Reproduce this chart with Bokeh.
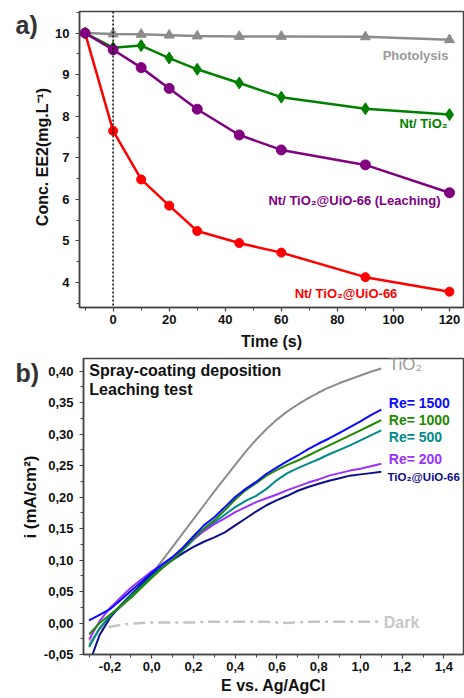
from bokeh.plotting import figure
from bokeh.layouts import column, row
from bokeh.models import Range1d, SingleIntervalTicker, Span, Label, CustomJSTickFormatter
from bokeh.embed import file_html
from bokeh.resources import INLINE

FONT = "Liberation Sans"

# ---------------- Panel a data ----------------
time_s = [-10, 0, 10, 20, 30, 45, 60, 90, 120]
photolysis = [10.0, 9.98, 9.97, 9.95, 9.93, 9.92, 9.92, 9.91, 9.84]
nt_tio2 = [10.0, 9.65, 9.70, 9.40, 9.13, 8.80, 8.46, 8.18, 8.04]
nt_tio2_uio_leach = [10.0, 9.60, 9.17, 8.67, 8.17, 7.55, 7.19, 6.83, 6.16]
nt_tio2_uio = [10.0, 7.65, 6.48, 5.85, 5.24, 4.95, 4.72, 4.13, 3.78]

# ---------------- Panel b data ----------------
potential = [-0.30, -0.25, -0.20, -0.15, -0.10, -0.05, 0.00, 0.05, 0.10, 0.15,
             0.20, 0.25, 0.30, 0.35, 0.40, 0.45, 0.50, 0.55, 0.60, 0.65,
             0.70, 0.75, 0.80, 0.85, 0.90, 0.95, 1.00, 1.05, 1.10]
i_tio2 = [-0.035, -0.010, 0.010, 0.025, 0.040, 0.058, 0.078, 0.099, 0.121, 0.143,
          0.165, 0.187, 0.209, 0.230, 0.251, 0.272, 0.291, 0.308, 0.323, 0.336,
          0.347, 0.357, 0.366, 0.374, 0.381, 0.387, 0.393, 0.399, 0.404]
i_re1500 = [0.004, 0.013, 0.022, 0.036, 0.051, 0.065, 0.080, 0.093, 0.105, 0.120,
            0.138, 0.155, 0.168, 0.184, 0.200, 0.213, 0.224, 0.237, 0.247, 0.257,
            0.266, 0.276, 0.285, 0.293, 0.302, 0.311, 0.320, 0.330, 0.339]
i_re1000 = [-0.018, 0.000, 0.013, 0.027, 0.040, 0.056, 0.072, 0.087, 0.100, 0.117,
            0.135, 0.150, 0.163, 0.179, 0.196, 0.211, 0.222, 0.234, 0.243, 0.251,
            0.258, 0.266, 0.274, 0.282, 0.290, 0.298, 0.306, 0.314, 0.322]
i_re500 = [-0.038, -0.008, 0.011, 0.027, 0.043, 0.058, 0.074, 0.088, 0.101, 0.116,
           0.132, 0.147, 0.160, 0.172, 0.184, 0.194, 0.202, 0.213, 0.227, 0.238,
           0.246, 0.253, 0.260, 0.268, 0.275, 0.282, 0.290, 0.298, 0.306]
i_re200 = [-0.026, 0.003, 0.024, 0.040, 0.056, 0.069, 0.082, 0.093, 0.104, 0.118,
           0.133, 0.146, 0.157, 0.166, 0.176, 0.184, 0.192, 0.198, 0.204, 0.211,
           0.217, 0.223, 0.228, 0.234, 0.238, 0.242, 0.245, 0.249, 0.253]
i_tio2_uio = [-0.065, -0.019, 0.008, 0.028, 0.045, 0.061, 0.077, 0.089, 0.100, 0.111,
              0.121, 0.129, 0.136, 0.144, 0.155, 0.166, 0.177, 0.187, 0.195, 0.202,
              0.210, 0.216, 0.221, 0.226, 0.230, 0.234, 0.236, 0.238, 0.240]
i_dark = [-0.030, -0.012, -0.006, -0.003, -0.001, 0.000, 0.001, 0.001, 0.001, 0.001,
          0.001, 0.002, 0.002, 0.002, 0.002, 0.002, 0.002, 0.002, 0.001, 0.000,
          0.001, 0.002, 0.002, 0.002, 0.002, 0.002, 0.002, 0.002, 0.002]

AX = "#444444"


def style_axis(ax, label_size, tick_size, label_standoff, axis_label_standoff):
    ax.axis_line_color = AX
    ax.axis_line_width = 1.5
    ax.major_tick_line_color = AX
    ax.minor_tick_line_color = AX
    ax.major_tick_line_width = 1.2
    ax.minor_tick_line_width = 1.0
    ax.major_tick_in = 0
    ax.major_tick_out = 4
    ax.minor_tick_in = 0
    ax.minor_tick_out = 3
    ax.major_label_text_font = FONT
    ax.major_label_text_font_style = "bold"
    ax.major_label_text_font_size = tick_size
    ax.major_label_text_color = "#111111"
    ax.major_label_standoff = label_standoff
    ax.axis_label_text_font = FONT
    ax.axis_label_text_font_style = "bold"
    ax.axis_label_text_font_size = label_size
    ax.axis_label_text_color = "#111111"
    ax.axis_label_standoff = axis_label_standoff


def lab(p, x, y, text, color, size="13px", style="bold", align="left"):
    p.add_layout(Label(x=x, y=y, text=text, text_font=FONT, text_font_size=size,
                       text_font_style=style, text_color=color, text_align=align,
                       text_baseline="middle"))


def side_strip(width, height, y_range, tag, tag_x, tag_y, ylabel, ylabel_x, ylabel_y, ylabel_size):
    """Narrow strip left of a panel carrying the panel tag and the rotated y title.
    Its frame is aligned with the neighbouring panel, so it shares that panel's y range."""
    s = figure(width=width, height=height, x_range=Range1d(0, 1), y_range=y_range,
               x_axis_type=None, y_axis_type=None, output_backend="svg",
               toolbar_location=None, min_border=0)
    s.outline_line_color = None
    s.xgrid.visible = False
    s.ygrid.visible = False
    s.add_layout(Label(x=tag_x, y=tag_y, x_units="screen", y_units="data", text=tag,
                       text_font=FONT, text_font_size="25px", text_font_style="bold",
                       text_color="#333333", text_align="left", text_baseline="middle"))
    s.add_layout(Label(x=ylabel_x, y=ylabel_y, x_units="screen", y_units="data",
                       text=ylabel, angle=90, angle_units="deg",
                       text_font=FONT, text_font_size=ylabel_size, text_font_style="bold",
                       text_color="#111111", text_align="center", text_baseline="middle"))
    return s


# ================= Panel a =================
H1 = 354
W_STRIP1 = 52
p1 = figure(width=464 - W_STRIP1, height=H1, x_range=Range1d(-12, 125), y_range=Range1d(3.4, 10.52),
            output_backend="svg", toolbar_location=None,
            min_border_left=79 - W_STRIP1, min_border_right=1, min_border_top=11, min_border_bottom=47)
p1.xgrid.visible = False
p1.ygrid.visible = False
p1.outline_line_color = AX
p1.outline_line_width = 1.5
p1.background_fill_color = "white"
p1.border_fill_color = "white"

p1.xaxis[0].ticker = SingleIntervalTicker(interval=20, num_minor_ticks=2)
p1.yaxis[0].ticker = SingleIntervalTicker(interval=1, num_minor_ticks=2)
p1.xaxis[0].axis_label = "Time (s)"
style_axis(p1.xaxis[0], "16px", "13px", 3, 6)
style_axis(p1.yaxis[0], "16px", "13px", 6, 4)

p1.add_layout(Span(location=0, dimension="height", line_color="black",
                   line_dash="2 2", line_width=1.5))

GRAY = "#8c8c8c"
GREEN = "#008000"
PURPLE = "#800080"
RED = "#ff0000"

p1.line(time_s, photolysis, line_color=GRAY, line_width=2.5)
p1.scatter(time_s, photolysis, marker="triangle", size=10, color=GRAY)
p1.line(time_s, nt_tio2_uio, line_color=RED, line_width=2.5)
p1.scatter(time_s, nt_tio2_uio, marker="circle", size=9, color=RED)
p1.line(time_s, nt_tio2, line_color=GREEN, line_width=2.5)
p1.scatter(time_s, nt_tio2, marker="diamond", size=12, color=GREEN)
p1.line(time_s, nt_tio2_uio_leach, line_color=PURPLE, line_width=2.5)
p1.scatter(time_s, nt_tio2_uio_leach, marker="circle", size=10, color=PURPLE)

lab(p1, 119.6, 9.45, "Photolysis", "#9a9a9a", align="right")
lab(p1, 119.3, 7.82, "Nt/ TiO\u2082", GREEN, align="right")
lab(p1, 116.8, 5.97, "Nt/ TiO\u2082@UiO-66 (Leaching)", PURPLE, align="right")
lab(p1, 101.4, 3.74, "Nt/ TiO\u2082@UiO-66", RED, align="right")

strip1 = side_strip(W_STRIP1, H1, p1.y_range, "a)", 15, 10.2,
                    "Conc. EE2(mg.L\u207b\u00b9)", 42, 7.02, "16px")

# ================= Panel b =================
H2 = 698 - H1
W_STRIP2 = 40
p2 = figure(width=464 - W_STRIP2, height=H2, x_range=Range1d(-0.327, 1.494), y_range=Range1d(-0.05, 0.42),
            output_backend="svg", toolbar_location=None,
            min_border_left=83 - W_STRIP2, min_border_right=1, min_border_top=4, min_border_bottom=44)
p2.xgrid.visible = False
p2.ygrid.visible = False
p2.outline_line_color = AX
p2.outline_line_width = 1.5
p2.background_fill_color = "white"
p2.border_fill_color = "white"

p2.xaxis[0].ticker = SingleIntervalTicker(interval=0.2, num_minor_ticks=2)
p2.yaxis[0].ticker = SingleIntervalTicker(interval=0.05, num_minor_ticks=2)
p2.xaxis[0].formatter = CustomJSTickFormatter(
    code="var v = Math.abs(tick) < 1e-9 ? 0 : tick; return v.toFixed(1).replace('.', ',');")
p2.yaxis[0].formatter = CustomJSTickFormatter(
    code="var v = Math.abs(tick) < 1e-9 ? 0 : tick; return v.toFixed(2).replace('.', ',');")
p2.xaxis[0].axis_label = "E vs. Ag/AgCl"
style_axis(p2.xaxis[0], "16px", "13px", 3, 3)
style_axis(p2.yaxis[0], "17px", "13px", 6, 5)

C_DARK = "#c4c4c4"
C_TIO2 = "#8c8c8c"
C_1500 = "#0a0aff"
C_1000 = "#1f8a00"
C_500 = "#008b8b"
C_200 = "#9b30ff"
C_UIO = "#0c0c8c"

p2.line(potential, i_dark, line_color=C_DARK, line_width=2.5, line_dash="12 5 3 5")
p2.line(potential, i_tio2, line_color=C_TIO2, line_width=2)
p2.line(potential, i_tio2_uio, line_color=C_UIO, line_width=2)
p2.line(potential, i_re500, line_color=C_500, line_width=2)
p2.line(potential, i_re200, line_color=C_200, line_width=2)
p2.line(potential, i_re1000, line_color=C_1000, line_width=2)
p2.line(potential, i_re1500, line_color=C_1500, line_width=2)

lab(p2, -0.299, 0.4005, "Spray-coating deposition", "#111111", size="16px")
lab(p2, -0.299, 0.370, "Leaching test", "#111111", size="16px")
lab(p2, 1.136, 0.410, "TiO\u2082", "#9a9a9a", size="17px", style="normal")
lab(p2, 1.136, 0.349, "Re= 1500", C_1500, size="14px")
lab(p2, 1.136, 0.322, "Re= 1000", C_1000, size="14px")
lab(p2, 1.136, 0.295, "Re= 500", C_500, size="14px")
lab(p2, 1.136, 0.260, "Re= 200", C_200, size="14px")
lab(p2, 1.130, 0.2325, "TiO\u2082@UiO-66", C_UIO, size="11.5px")
lab(p2, 1.112, 0.001, "Dark", "#c8c8c8", size="16px")

strip2 = side_strip(W_STRIP2, H2, p2.y_range, "b)", 15, 0.397,
                    "i (mA/cm\u00b2)", 30, 0.20, "17px")

layout = column(row(strip1, p1), row(strip2, p2))
open("out.html", "w").write(file_html(layout, INLINE))
